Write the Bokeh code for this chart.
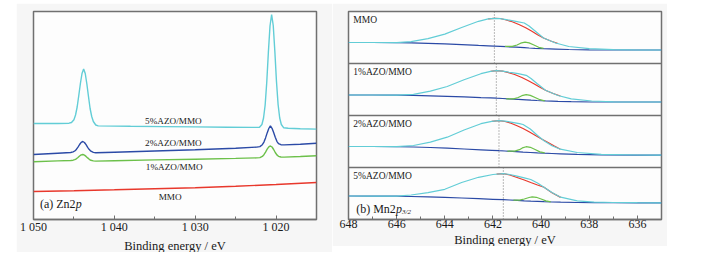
from bokeh.plotting import figure
from bokeh.models import Range1d, FixedTicker, Span, Label, Title, Spacer
from bokeh.layouts import row, column
from bokeh.embed import file_html
from bokeh.resources import INLINE

SERIF = "Liberation Serif"
FRAME = "#707070"
TXT = "#1a1a1a"
CYAN = "#62cdd6"
BLUE = "#2b4aa6"
GREEN = "#6cc04a"
RED = "#e8382c"

# ---------------- (a) Zn2p ----------------
zn_ticks = [1050, 1040, 1030, 1020]
zn_tick_labels = ["1 050", "1 040", "1 030", "1 020"]
zn_minor = [1045, 1035, 1025, 1015]

zn_5_x = [1050, 1047, 1045.6, 1045.3, 1045.0, 1044.8, 1044.6, 1044.4, 1044.2, 1044.0, 1043.8,
          1043.6, 1043.4, 1043.2, 1043.0, 1042.8, 1042.6, 1042.3, 1042.0, 1038, 1034, 1030,
          1026, 1023, 1022.05, 1021.75, 1021.55, 1021.35, 1021.15, 1020.95, 1020.75, 1020.55,
          1020.35, 1020.15, 1019.95, 1019.75, 1019.55, 1019.35, 1019.05, 1018.5, 1017, 1015]
zn_5_y = [96, 96, 96.3, 97, 99.8, 104.5, 112.5, 124, 136, 146, 150.6,
          146, 135.5, 123, 111, 103, 98, 94.5, 93.6, 93.2, 92.9, 92.6,
          92.3, 92.1, 92.2, 95, 101.5, 114.5, 137.5, 167.5, 193.5, 205,
          194, 168, 138, 115, 101.5, 95, 91.7, 91.2, 90.8, 90.4]

zn_x = [1050, 1047, 1045.4, 1045.1, 1044.9, 1044.7, 1044.5, 1044.3, 1044.1, 1043.9, 1043.7,
        1043.5, 1043.3, 1043.1, 1042.9, 1042.6, 1042.3, 1040, 1035, 1030, 1025, 1022.4,
        1022.0, 1021.7, 1021.5, 1021.3, 1021.1, 1020.9, 1020.7, 1020.5, 1020.3, 1020.1,
        1019.9, 1019.7, 1019.4, 1019.0, 1017, 1015]
zn_2_y = [65, 66.3, 67, 67.6, 68.5, 70.1, 72.4, 75, 77.2, 78, 77,
          74.8, 72.2, 69.9, 68.3, 67.1, 66.8, 67.3, 68.5, 69.8, 71.3, 72.4,
          72.9, 74.8, 77.4, 81.6, 86.6, 91, 93.7, 91.2, 87, 82.2,
          78.2, 75.9, 74.8, 74.6, 75.3, 76.2]
zn_1_y = [57.7, 58.6, 59, 59.3, 59.8, 60.7, 62, 63.5, 64.6, 65, 64.4,
          63.1, 61.6, 60.2, 59.2, 58.6, 58.4, 58.8, 59.6, 60.3, 61.1, 61.6,
          61.9, 63.1, 64.8, 67.4, 70.4, 72.7, 73.5, 72.5, 70.0, 67.0,
          64.6, 63.2, 62.5, 62.4, 63.0, 63.7]
zn_mmo_x = [1050, 1045, 1040, 1035, 1030, 1025, 1020, 1015]
zn_mmo_y = [28, 28.8, 29.7, 30.7, 31.8, 33.2, 35, 37]

zn_names = ["5%AZO/MMO", "2%AZO/MMO", "1%AZO/MMO", "MMO"]
zn_name_x = [1032.7, 1032.7, 1032.6, 1033.1]
zn_name_y = [99, 76.3, 53, 23]

# ---------------- (b) Mn2p3/2 ----------------
mn_ticks = [648, 646, 644, 642, 640, 638, 636]
mn_minor = [647, 645, 643, 641, 639, 637, 635]

# bottom -> top: 5%, 2%, 1%, MMO
mn_names = ["5%AZO/MMO", "2%AZO/MMO", "1%AZO/MMO", "MMO"]
mn_peak_pos = [641.57, 641.75, 641.86, 641.94]

mn5_x = [648, 647, 646, 645.4, 644.7, 644.0, 643.3, 642.6, 642.0, 641.57, 641.3, 641.0, 640.7,
         640.43, 640.15, 639.88, 639.55, 639.19, 638.5, 637.8, 637.0, 636.0, 635.0]
mn5_env = [23.5, 23.4, 23.3, 24.5, 26.8, 30.2, 37.0, 42.2, 45.0, 45.8, 45.0, 43.3, 41.6,
           40.0, 36.5, 32.3, 27.0, 22.3, 18.7, 17.4, 17.0, 16.8, 16.7]
mn5_bg = [23.5, 23.4, 23.3, 23.0, 22.6, 22.1, 21.5, 20.8, 20.2, 19.8, 19.5, 19.1, 18.7,
          18.4, 18.1, 17.8, 17.5, 17.3, 17.0, 16.9, 16.8, 16.7, 16.7]
mn5_red_x = [641.85, 641.57, 641.3, 641.0, 640.7, 640.43, 640.15, 639.88, 639.55, 639.19]
mn5_red = [45.4, 45.8, 44.5, 42.0, 39.5, 37.0, 34.5, 32.3, 26.8, 22.1]
mn5_green_x = [641.15, 640.9, 640.7, 640.5, 640.37, 640.2, 640.0, 639.8, 639.6]
mn5_green = [19.3, 19.4, 20.5, 22.0, 22.6, 22.2, 20.5, 18.6, 17.6]

mn2_x = [648, 647, 646, 645.3, 644.6, 643.9, 643.2, 642.5, 642.05, 641.75, 641.5, 641.2, 640.9,
         640.75, 640.45, 640.15, 639.88, 639.55, 639.2, 638.5, 637.5, 636.0, 635.0]
mn2_env = [21.0, 21.0, 20.9, 22.0, 25.3, 30.3, 37.5, 43.8, 46.2, 46.8, 46.3, 45.2, 43.8,
           43.0, 38.5, 32.0, 26.7, 21.8, 18.3, 15.0, 13.2, 12.5, 12.3]
mn2_bg = [21.0, 21.0, 20.8, 20.5, 20.0, 19.3, 18.5, 17.7, 17.2, 16.8, 16.5, 16.1, 15.7,
          15.4, 15.0, 14.6, 14.3, 14.0, 13.7, 13.2, 12.6, 12.3, 12.3]
mn2_red_x = [642.05, 641.75, 641.5, 641.25, 641.0, 640.75, 640.5, 640.25, 640.0, 639.75, 639.45, 639.2]
mn2_red = [46.2, 46.8, 46.0, 44.3, 41.8, 39.0, 35.8, 32.3, 28.8, 25.5, 21.5, 18.3]
mn2_green_x = [641.4, 641.1, 640.9, 640.78, 640.62, 640.45, 640.25, 640.05, 639.85]
mn2_green = [16.3, 16.4, 17.8, 19.6, 20.8, 20.2, 18.0, 15.6, 14.6]

mn1_x = [648, 647, 646, 645.3, 644.6, 643.9, 643.2, 642.5, 642.1, 641.86, 641.6, 641.35, 640.95,
         640.62, 640.42, 640.17, 639.82, 639.3, 638.75, 637.9, 637.0, 636.0, 635.0]
mn1_env = [20.5, 20.5, 20.3, 21.2, 24.3, 29.0, 35.8, 41.8, 44.2, 44.8, 44.4, 43.3, 41.8,
           40.2, 37.0, 32.0, 25.2, 20.0, 16.6, 14.5, 13.7, 13.5, 13.5]
mn1_bg = [20.5, 20.5, 20.3, 20.1, 19.7, 19.2, 18.6, 17.9, 17.6, 17.3, 17.0, 16.6, 16.1,
          15.6, 15.3, 15.0, 14.6, 14.2, 13.8, 13.5, 13.5, 13.5, 13.5]
mn1_red_x = [642.1, 641.86, 641.6, 641.35, 641.1, 640.8, 640.55, 640.3, 640.05, 639.8, 639.5, 639.2]
mn1_red = [44.2, 44.8, 44.3, 42.8, 41.0, 38.0, 35.0, 31.8, 28.2, 25.0, 22.0, 19.5]
mn1_green_x = [641.45, 641.15, 640.95, 640.8, 640.62, 640.45, 640.25, 640.05, 639.85]
mn1_green = [16.6, 16.7, 18.0, 19.8, 20.8, 20.1, 18.0, 15.8, 14.7]

mn0_x = [648, 647, 646, 645.4, 644.7, 644.0, 643.3, 642.6, 642.2, 641.95, 641.7, 641.45, 641.05,
         640.7, 640.5, 640.25, 639.9, 639.4, 638.85, 638.0, 637.0, 636.0, 635.0]
mn0_env = [21.0, 21.0, 20.8, 21.8, 24.8, 29.4, 36.0, 42.2, 44.6, 45.2, 44.9, 43.9, 42.2,
           40.5, 37.5, 32.5, 25.5, 20.5, 17.0, 14.8, 13.8, 13.5, 13.5]
mn0_bg = [21.0, 21.0, 20.8, 20.6, 20.2, 19.6, 18.9, 18.1, 17.7, 17.4, 17.1, 16.8, 16.3,
          15.8, 15.5, 15.2, 14.8, 14.4, 14.0, 13.6, 13.5, 13.5, 13.5]
mn0_red_x = [642.2, 641.95, 641.7, 641.45, 641.2, 640.9, 640.64, 640.4, 640.15, 639.9, 639.6, 639.3]
mn0_red = [44.6, 45.2, 45.0, 43.5, 41.7, 38.8, 35.7, 32.5, 28.8, 25.5, 22.5, 20.0]
mn0_green_x = [641.5, 641.2, 641.0, 640.85, 640.67, 640.5, 640.3, 640.1, 639.9]
mn0_green = [17.1, 17.2, 18.5, 20.3, 21.3, 20.6, 18.5, 16.2, 15.1]

X_TITLE = "Binding energy / eV"
PANEL_H = 52  # height of one stacked sub-panel, in y units (1 unit = 1 px)


def style(p):
    p.outline_line_color = FRAME
    p.outline_line_width = 1.5
    p.background_fill_color = "#fdfdfd"
    p.border_fill_color = "#f6f6f6"
    p.xgrid.visible = False
    p.ygrid.visible = False
    ax = p.xaxis[0]
    ax.axis_line_color = FRAME
    ax.axis_line_width = 1.5
    ax.major_tick_in = 4
    ax.major_tick_out = 0
    ax.minor_tick_in = 3
    ax.minor_tick_out = 0
    ax.major_tick_line_color = FRAME
    ax.minor_tick_line_color = FRAME
    ax.major_label_text_font = SERIF
    ax.major_label_text_font_size = "12px"
    ax.major_label_text_color = TXT
    ax.major_label_text_line_height = 1.0
    ax.major_label_standoff = 0
    p.add_layout(Title(text=X_TITLE, align="center", text_font=SERIF, text_font_size="12.5px",
                       text_font_style="normal", text_color=TXT, text_line_height=1.0,
                       standoff=0), "below")


# ---- left figure
pa = figure(frame_width=283, frame_height=208, x_range=Range1d(1050, 1015),
            y_range=Range1d(0, 208), y_axis_location=None, toolbar_location=None, tools="",
            output_backend="svg", min_border_left=17, min_border_right=16, min_border_top=8,
            min_border_bottom=26)
style(pa)
pa.xaxis[0].ticker = FixedTicker(ticks=zn_ticks, minor_ticks=zn_minor)
pa.xaxis[0].major_label_overrides = {t: l for t, l in zip(zn_ticks, zn_tick_labels)}

pa.line(zn_mmo_x, zn_mmo_y, line_color=RED, line_width=1.4)
pa.line(zn_x, zn_1_y, line_color=GREEN, line_width=1.4)
pa.line(zn_x, zn_2_y, line_color=BLUE, line_width=1.4)
pa.line(zn_5_x, zn_5_y, line_color=CYAN, line_width=1.4)

for name, x, y in zip(zn_names, zn_name_x, zn_name_y):
    pa.add_layout(Label(x=x, y=y, text=name, text_font=SERIF, text_font_size="9.2px",
                        text_color=TXT, text_align="center", text_baseline="middle"))

pa.add_layout(Label(x=1049.2, y=16, text="(a) Zn2", text_font=SERIF, text_font_size="12px",
                    text_color=TXT, text_align="left", text_baseline="middle"))
pa.add_layout(Label(x=1049.2, y=16, x_offset=35.7, text="p", text_font=SERIF,
                    text_font_size="12px", text_font_style="italic", text_color=TXT,
                    text_align="left", text_baseline="middle"))

# ---- right figure
pb = figure(frame_width=313, frame_height=208, x_range=Range1d(648, 635),
            y_range=Range1d(0, 4 * PANEL_H), y_axis_location=None, toolbar_location=None,
            tools="", output_backend="svg", min_border_left=16, min_border_right=6,
            min_border_top=8, min_border_bottom=26)
style(pb)
pb.xaxis[0].ticker = FixedTicker(ticks=mn_ticks, minor_ticks=mn_minor)

panels = [
    (mn5_x, mn5_env, mn5_bg, mn5_red_x, mn5_red, mn5_green_x, mn5_green),
    (mn2_x, mn2_env, mn2_bg, mn2_red_x, mn2_red, mn2_green_x, mn2_green),
    (mn1_x, mn1_env, mn1_bg, mn1_red_x, mn1_red, mn1_green_x, mn1_green),
    (mn0_x, mn0_env, mn0_bg, mn0_red_x, mn0_red, mn0_green_x, mn0_green),
]

for k, (x, env, bg, rx, red, gx, green) in enumerate(panels):
    off = k * PANEL_H
    pb.segment(x0=[mn_peak_pos[k]], y0=[off], x1=[mn_peak_pos[k]], y1=[off + PANEL_H],
               line_color="#555555", line_width=0.8, line_dash="1 2")
    pb.line(x, [v + off for v in bg], line_color=BLUE, line_width=1.2)
    pb.line(rx, [v + off for v in red], line_color=RED, line_width=1.2)
    pb.line(gx, [v + off for v in green], line_color=GREEN, line_width=1.2)
    pb.line(x, [v + off for v in env], line_color=CYAN, line_width=1.2)
    pb.add_layout(Label(x=647.8, y=off + PANEL_H - 8.5, text=mn_names[k], text_font=SERIF,
                        text_font_size="9.5px", text_color=TXT, text_align="left",
                        text_baseline="middle"))
    if k > 0:
        pb.add_layout(Span(location=off, dimension="width", line_color=FRAME, line_width=1.5))

pb.add_layout(Label(x=647.68, y=11, text="(b) Mn2", text_font=SERIF, text_font_size="12px",
                    text_color=TXT, text_align="left", text_baseline="middle"))
pb.add_layout(Label(x=647.68, y=11, x_offset=39.7, text="p", text_font=SERIF,
                    text_font_size="12px", text_font_style="italic", text_color=TXT,
                    text_align="left", text_baseline="middle"))
pb.add_layout(Label(x=647.68, y=11, x_offset=45.8, y_offset=-3, text="3/2", text_font=SERIF,
                    text_font_size="7px", text_font_style="italic", text_color=TXT,
                    text_align="left", text_baseline="middle"))

layout = column(Spacer(height=3), row(Spacer(width=16), pa, pb))
open("out.html", "w").write(file_html(layout, INLINE))
